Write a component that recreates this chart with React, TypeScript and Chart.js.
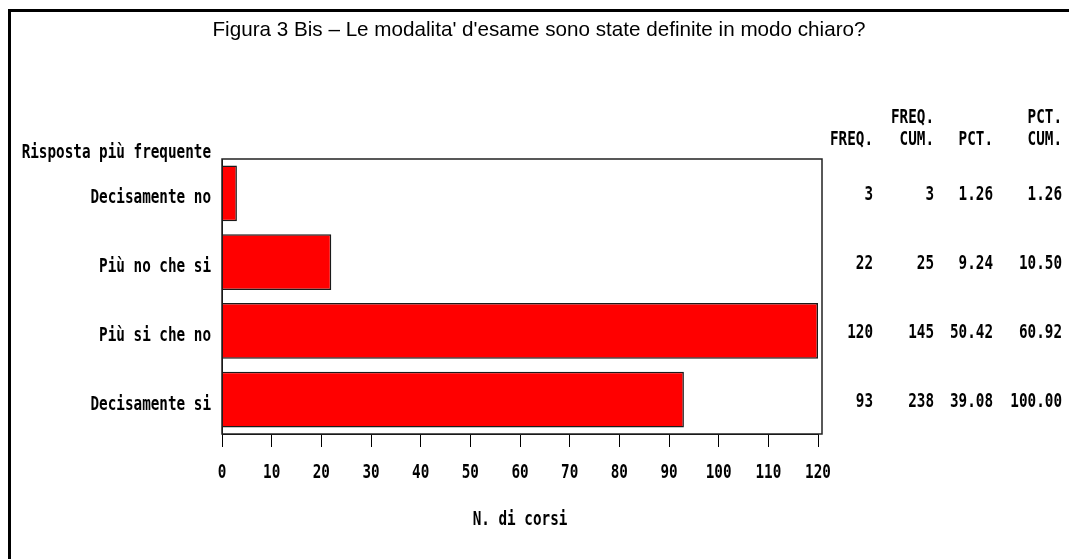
import React, { useEffect, useRef } from "react";
import { Chart, registerables } from "chart.js";

Chart.register(...registerables);

const title = "Figura 3 Bis \u2013 Le modalita' d'esame sono state definite in modo chiaro?";
const yTitle = "Risposta più frequente";
const xTitle = "N. di corsi";
const categories = ["Decisamente no", "Più no che si", "Più si che no", "Decisamente si"];
const freq = [3, 22, 120, 93];
const freqCum = [3, 25, 145, 238];
const pct = ["1.26", "9.24", "50.42", "39.08"];
const pctCum = ["1.26", "10.50", "60.92", "100.00"];
const headerTop = ["", "FREQ.", "", "PCT."];
const headerBottom = ["FREQ.", "CUM.", "PCT.", "CUM."];
const xMin = 0;
const xMax = 120;
const xStep = 10;

const MONO = "'DejaVu Sans Mono', 'Liberation Mono', monospace";
const SANS = "'Liberation Sans', Arial, sans-serif";
const MONO_SIZE = 14.3;
const V_STRETCH = 1.35;

function monoText(ctx: any, text: string, x: number, y: number, align: string) {
  ctx.save();
  ctx.translate(x, y);
  ctx.scale(1, V_STRETCH);
  ctx.font = `700 ${MONO_SIZE}px ${MONO}`;
  ctx.textAlign = align;
  ctx.textBaseline = "middle";
  ctx.fillText(text, 0, 0);
  ctx.restore();
}

const decorPlugin = {
  id: "decor",
  beforeDraw(chart: any) {
    const { ctx, width, height } = chart;
    ctx.save();
    ctx.fillStyle = "#ffffff";
    ctx.fillRect(0, 0, width, height);
    ctx.restore();
  },
  afterDraw(chart: any) {
    const { ctx, chartArea, scales, width, height } = chart;
    const { left, right, top, bottom } = chartArea;
    ctx.save();
    // outer frame
    ctx.strokeStyle = "#000";
    ctx.lineWidth = 3;
    ctx.beginPath();
    ctx.moveTo(9.5, height + 5);
    ctx.lineTo(9.5, 10.5);
    ctx.lineTo(width + 5, 10.5);
    ctx.stroke();
    // plot frame
    ctx.lineWidth = 1.5;
    ctx.strokeStyle = "#222";
    ctx.strokeRect(left, top, right + 4 - left, bottom - top);

    ctx.fillStyle = "#000";
    // title (narrow sans)
    ctx.save();
    ctx.font = `400 21px ${SANS}`;
    const w = ctx.measureText(title).width;
    const sx = 653 / w;
    ctx.translate(539, 30);
    ctx.scale(sx, 1);
    ctx.textAlign = "center";
    ctx.textBaseline = "middle";
    ctx.fillText(title, 0, 0);
    ctx.restore();

    // y axis title
    monoText(ctx, yTitle, left - 11, top - 6, "right");

    // category labels
    const ys = scales.y;
    ys.getLabels().forEach((lab: string, i: number) => {
      monoText(ctx, lab, left - 11, ys.getPixelForValue(i) + 5, "right");
    });

    // x tick labels
    const xs = scales.x;
    xs.ticks.forEach((t: any) => {
      monoText(ctx, String(t.value), xs.getPixelForValue(t.value), bottom + 39, "center");
    });

    // x axis title
    monoText(ctx, xTitle, (left + right) / 2, bottom + 86, "center");

    // table
    const cols = [right + 55, right + 116, right + 175, right + 244];
    cols.forEach((cx, c) => {
      if (headerTop[c]) monoText(ctx, headerTop[c], cx, top - 41, "right");
      monoText(ctx, headerBottom[c], cx, top - 19, "right");
    });
    categories.forEach((_, i) => {
      const y = ys.getPixelForValue(i) + 2;
      const vals = [String(freq[i]), String(freqCum[i]), pct[i], pctCum[i]];
      vals.forEach((v, c) => monoText(ctx, v, cols[c], y, "right"));
    });
    ctx.restore();
  },
};

export default function App() {
  const ref = useRef<HTMLCanvasElement | null>(null);
  useEffect(() => {
    if (!ref.current) return;
    const chart = new Chart(ref.current, {
      type: "bar",
      data: {
        labels: categories,
        datasets: [
          {
            data: freq,
            backgroundColor: "#ff0000",
            borderColor: "#1a1a1a",
            borderWidth: 1.5,
            categoryPercentage: 1,
            barPercentage: 0.81,
          },
        ],
      },
      options: {
        indexAxis: "y",
        animation: false,
        responsive: false,
        layout: { padding: { top: 159, right: 251, left: 0, bottom: 0 } },
        plugins: { legend: { display: false }, tooltip: { enabled: false }, title: { display: false } },
        scales: {
          x: {
            min: xMin,
            max: xMax,
            afterFit: (s: any) => {
              s.height = 125;
            },
            ticks: { stepSize: xStep, display: false },
            grid: { display: true, drawOnChartArea: false, drawTicks: true, tickLength: 13, color: "#000", lineWidth: 1 },
            border: { display: true, color: "#000" },
          },
          y: {
            afterFit: (s: any) => {
              s.width = 222;
            },
            ticks: { display: false },
            grid: { display: false, drawTicks: false },
            border: { display: true, color: "#000" },
          },
        },
      },
      plugins: [decorPlugin],
    } as any);
    return () => chart.destroy();
  }, []);
  return (
    <div style={{ position: "fixed", left: 0, top: 0, width: 1069, height: 559, background: "#fff" }}>
      <canvas ref={ref} width={1069} height={559} style={{ display: "block" }} />
    </div>
  );
}
